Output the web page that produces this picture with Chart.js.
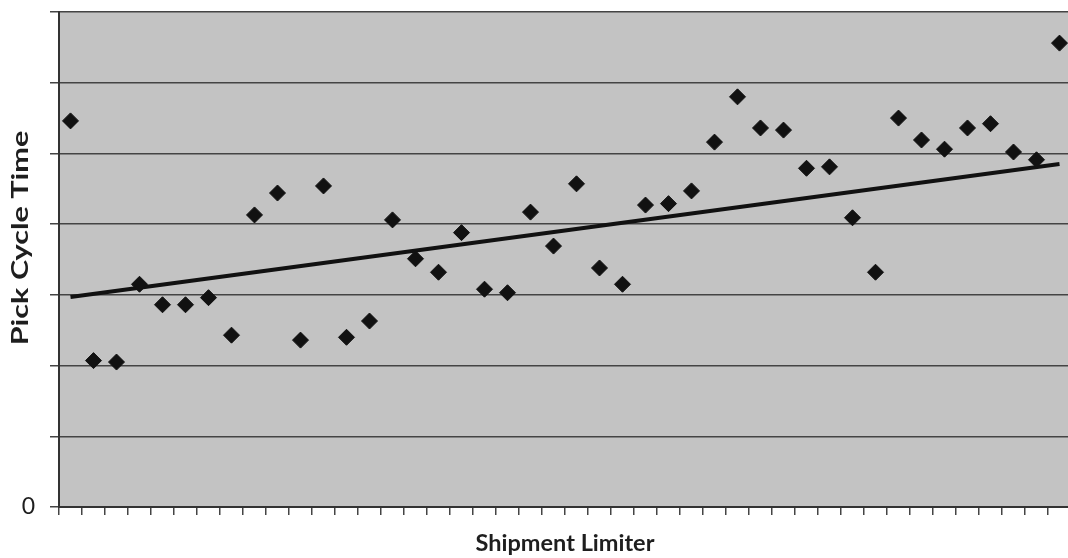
<!DOCTYPE html>
<html>
<head>
<meta charset="utf-8">
<script src="https://cdn.jsdelivr.net/npm/chart.js@4.4.1/dist/chart.umd.min.js"></script>
<style>
  html, body { margin: 0; padding: 0; background: #ffffff; overflow: hidden; }
  #wrap { width: 1080px; height: 558px; }
</style>
</head>
<body>
<div id="wrap"><canvas id="c" width="1080" height="558"></canvas></div>
<script>
// ---- data ----
const categories = Array.from({length: 44}, (_, i) => String(i + 1));
const pickCycleTime = [
  5.46, 2.07, 2.05, 3.15, 2.86, 2.86, 2.96, 2.43, 4.13, 4.44,
  2.36, 4.54, 2.40, 2.63, 4.06, 3.51, 3.32, 3.88, 3.08, 3.03,
  4.17, 3.69, 4.57, 3.38, 3.15, 4.27, 4.29, 4.47, 5.16, 5.80,
  5.36, 5.33, 4.79, 4.81, 4.09, 3.32, 5.50, 5.19, 5.06, 5.36,
  5.42, 5.02, 4.91, 6.56
];
const trendStart = 2.97;   // trend line value at first category
const trendEnd = 4.85;     // trend line value at last category
const yTickLabels = { 0: '0' };
const yMax = 7;

const trendData = categories.map((_, i) => i === 0 ? trendStart : (i === categories.length - 1 ? trendEnd : null));

const plotBg = {
  id: 'plotBg',
  beforeDraw(chart) {
    const {ctx, chartArea: a} = chart;
    ctx.save();
    ctx.fillStyle = '#c3c3c3';
    ctx.fillRect(a.left, a.top, a.right - a.left, a.bottom - a.top);
    ctx.restore();
  }
};
const yTitle = {
  id: 'yTitle',
  afterDraw(chart) {
    const {ctx} = chart;
    ctx.save();
    ctx.translate(21, 238);
    ctx.rotate(-Math.PI / 2);
    ctx.scale(1.33, 1);
    ctx.font = 'bold 23px Lato, "Open Sans", sans-serif';
    ctx.fillStyle = '#1e1e1e';
    ctx.textAlign = 'center';
    ctx.textBaseline = 'middle';
    ctx.fillText('Pick Cycle Time', 0, 0);
    ctx.restore();
  }
};

new Chart(document.getElementById('c'), {
  type: 'line',
  data: {
    labels: categories,
    datasets: [
      {
        label: 'Pick Cycle Time',
        data: pickCycleTime,
        showLine: false,
        pointStyle: 'rectRot',
        pointRadius: 8,
        pointHoverRadius: 8,
        pointBackgroundColor: '#111',
        pointBorderColor: '#111',
        pointBorderWidth: 1,
        order: 1
      },
      {
        label: 'Trend',
        data: trendData,
        spanGaps: true,
        borderColor: '#111',
        borderWidth: 4,
        pointRadius: 0,
        fill: false,
        order: 2
      }
    ]
  },
  options: {
    responsive: false,
    animation: false,
    layout: { padding: { top: 12, right: 6, bottom: 0, left: 0 } },
    plugins: { legend: { display: false }, tooltip: { enabled: false } },
    scales: {
      x: {
        type: 'category',
        offset: true,
        grid: { offset: true, drawOnChartArea: false, drawTicks: true, tickLength: 8, color: '#444', lineWidth: 1.5 },
        border: { display: true, color: '#333', width: 2 },
        ticks: { display: false },
        title: {
          display: true,
          text: 'Shipment Limiter',
          font: { family: 'Lato, "Open Sans", sans-serif', size: 23.5, weight: 'bold' },
          color: '#1e1e1e',
          padding: { top: 0, bottom: 0 }
        },
        afterFit(scale) { scale.height = 51; scale.paddingLeft = 0; scale.paddingRight = 0; }
      },
      y: {
        min: 0,
        max: yMax,
        grid: { color: '#444', lineWidth: 1.5, drawTicks: true, tickLength: 9 },
        border: { display: true, color: '#333', width: 2 },
        ticks: {
          stepSize: 1,
          padding: 15,
          color: '#1e1e1e',
          font: { family: 'Lato, "Open Sans", sans-serif', size: 23 },
          callback: (v) => (yTickLabels[v] !== undefined ? yTickLabels[v] : '')
        },
        afterFit(scale) { scale.width = 59; scale.paddingTop = 0; scale.paddingBottom = 0; }
      }
    }
  },
  plugins: [plotBg, yTitle]
});
</script>
</body>
</html>
